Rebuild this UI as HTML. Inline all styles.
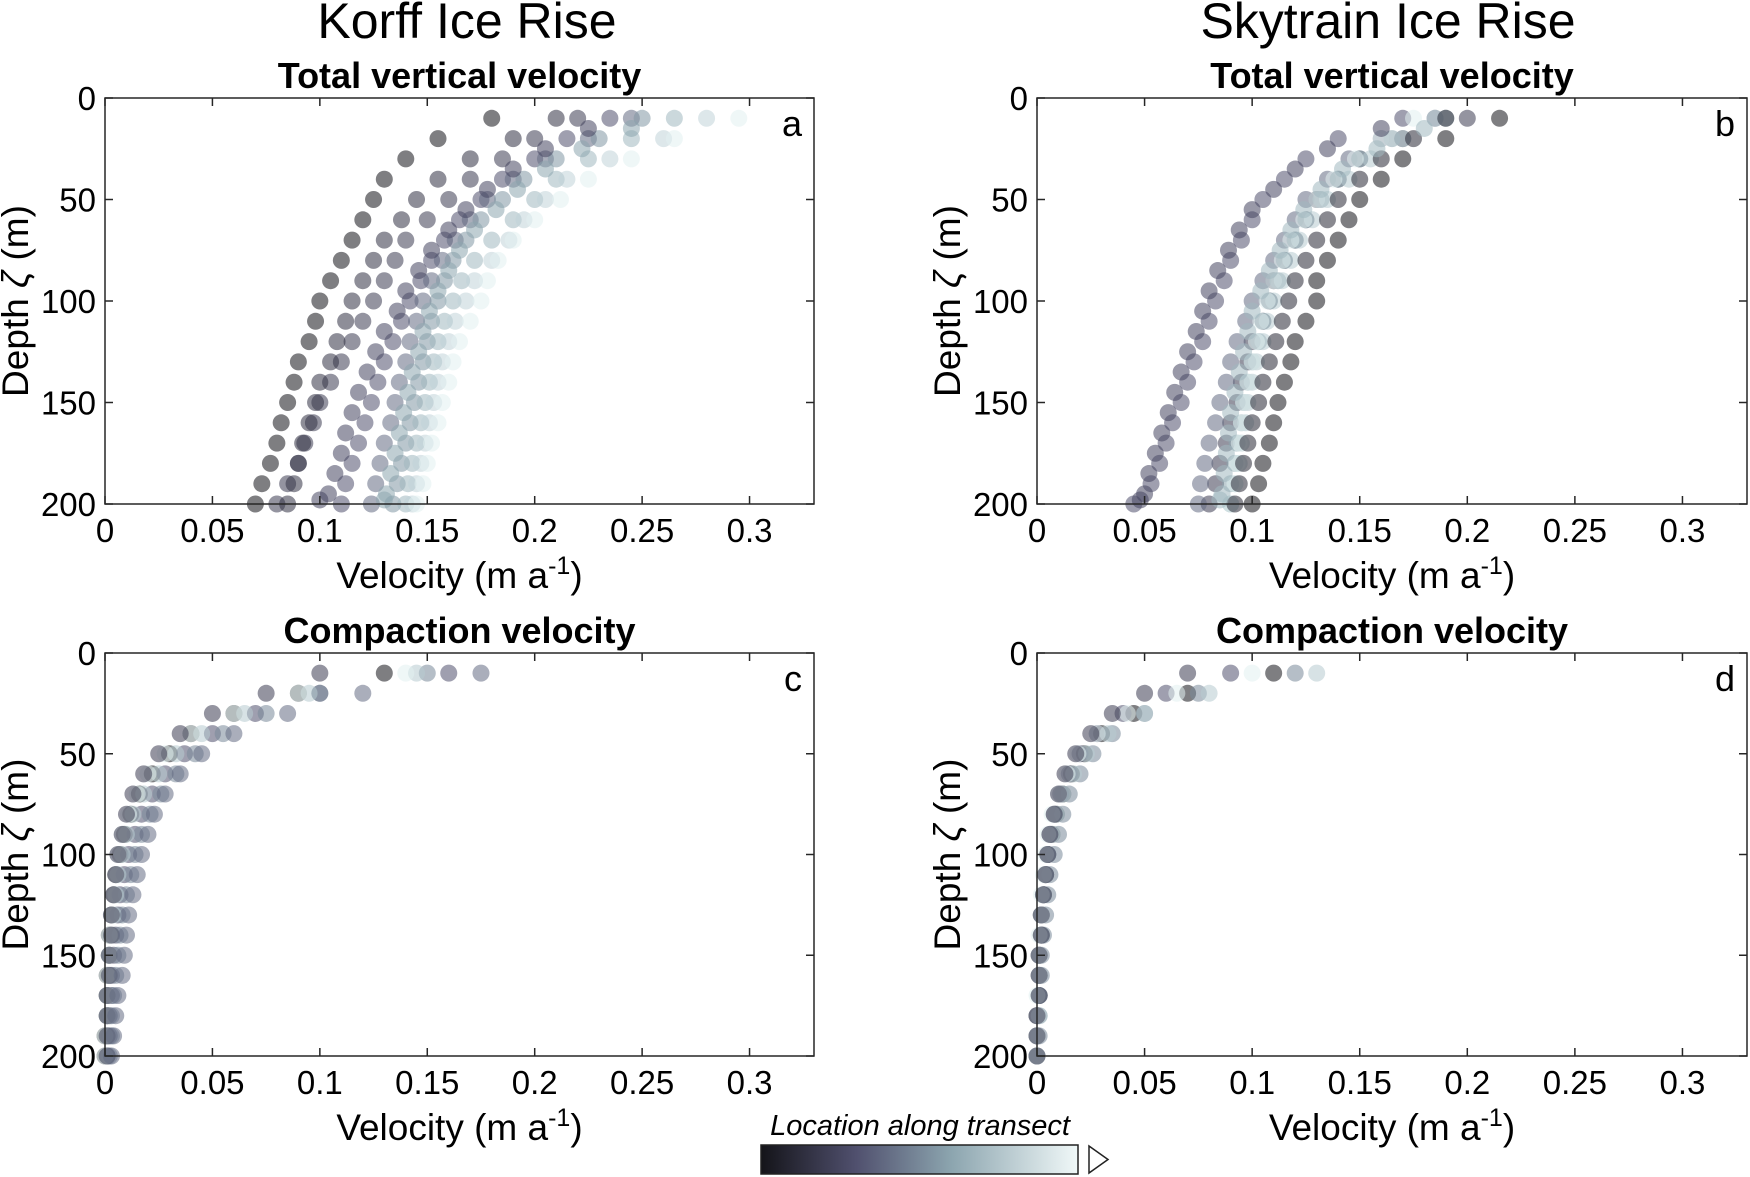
<!DOCTYPE html>
<html><head><meta charset="utf-8"><style>
html,body{margin:0;padding:0;background:#fff;}
svg{display:block;font-family:"Liberation Sans",Arial,sans-serif;}
</style></head><body>
<svg id="fig" width="1750" height="1177" viewBox="0 0 1750 1177">
<defs><linearGradient id="cmap" x1="0" x2="1" y1="0" y2="0">
<stop offset="0" stop-color="#141419"/><stop offset="0.3" stop-color="#50506e"/><stop offset="0.6" stop-color="#8ca5af"/><stop offset="1" stop-color="#f0f8f8"/></linearGradient></defs>
<text x="467" y="38" font-size="50" text-anchor="middle">Korff Ice Rise</text>
<text x="1388" y="38" font-size="50" text-anchor="middle">Skytrain Ice Rise</text>
<g>
<text x="920" y="1135" font-size="29" font-style="italic" text-anchor="middle">Location along transect</text>
<rect x="761" y="1145" width="317" height="29" fill="url(#cmap)" stroke="#222" stroke-width="1.5"/>
<polygon points="1089,1146 1108,1159.5 1089,1173" fill="#fff" stroke="#222" stroke-width="1.5"/>
</g>
</svg>
<script>
const depths=[10,20,30,40,50,60,70,80,90,100,110,120,130,140,150,160,170,180,190,200];
const depthsB=[15,25,35,45,55,65,75,85,95,105,115,125,135,145,155,165,175,185,195,198];
const aColors=[0.0,0.2,0.3,0.4,0.55,0.7,0.85,1.0,0.15,0.25,0.6];
const aDepthSet=[0,0,0,0,0,0,0,0,0,1,1];
const aVals=[
[0.18,0.155,0.14,0.13,0.125,0.12,0.115,0.11,0.105,0.10,0.098,0.095,0.09,0.088,0.085,0.082,0.08,0.077,0.073,0.07],
[0.22,0.20,0.185,0.17,0.16,0.15,0.14,0.135,0.13,0.125,0.12,0.115,0.11,0.105,0.10,0.097,0.093,0.09,0.085,0.08],
[0.235,0.215,0.2,0.185,0.175,0.165,0.158,0.152,0.147,0.142,0.138,0.134,0.13,0.127,0.124,0.121,0.118,0.115,0.112,0.11],
[0.245,0.225,0.205,0.19,0.178,0.17,0.163,0.157,0.152,0.148,0.145,0.142,0.14,0.137,0.135,0.133,0.13,0.128,0.126,0.124],
[0.25,0.23,0.21,0.195,0.185,0.175,0.168,0.162,0.158,0.155,0.152,0.15,0.148,0.146,0.144,0.142,0.14,0.138,0.136,0.134],
[0.265,0.245,0.225,0.21,0.2,0.19,0.18,0.172,0.166,0.162,0.158,0.155,0.153,0.151,0.149,0.147,0.145,0.143,0.141,0.14],
[0.28,0.26,0.235,0.215,0.205,0.195,0.188,0.18,0.172,0.168,0.163,0.16,0.157,0.155,0.153,0.151,0.149,0.147,0.145,0.143],
[0.295,0.265,0.245,0.225,0.212,0.2,0.19,0.183,0.178,0.175,0.17,0.165,0.162,0.16,0.157,0.155,0.152,0.15,0.148,0.145],
[0.21,0.19,0.17,0.155,0.145,0.138,0.13,0.125,0.12,0.115,0.112,0.108,0.105,0.1,0.098,0.095,0.092,0.09,0.088,0.085],
[0.225,0.205,0.19,0.178,0.168,0.16,0.152,0.146,0.14,0.136,0.13,0.126,0.122,0.118,0.115,0.112,0.11,0.107,0.104,0.1],
[0.245,0.222,0.205,0.192,0.182,0.172,0.165,0.16,0.155,0.151,0.148,0.146,0.143,0.141,0.139,0.137,0.135,0.133,0.131,0.13]];
const bColors=[0.0,0.2,0.3,0.4,0.6,0.8,1.0,0.1,0.25,0.7];
const bDepthSet=[0,0,0,0,0,0,0,0,1,1];
const bVals=[
[0.215,0.19,0.17,0.16,0.15,0.145,0.14,0.135,0.13,0.13,0.125,0.12,0.118,0.115,0.112,0.11,0.108,0.105,0.103,0.1],
[0.2,0.17,0.15,0.14,0.13,0.125,0.12,0.115,0.11,0.108,0.105,0.1,0.098,0.095,0.093,0.09,0.088,0.085,0.083,0.08],
[0.17,0.14,0.125,0.115,0.105,0.1,0.095,0.09,0.087,0.083,0.08,0.077,0.073,0.07,0.067,0.063,0.06,0.057,0.053,0.045],
[0.185,0.16,0.145,0.135,0.125,0.12,0.115,0.11,0.105,0.1,0.097,0.093,0.09,0.088,0.085,0.083,0.08,0.078,0.076,0.075],
[0.19,0.165,0.15,0.14,0.132,0.125,0.12,0.115,0.112,0.108,0.105,0.103,0.1,0.098,0.096,0.095,0.093,0.092,0.09,0.09],
[0.185,0.17,0.155,0.145,0.135,0.128,0.122,0.118,0.114,0.11,0.107,0.105,0.102,0.1,0.098,0.097,0.095,0.094,0.092,0.09],
[0.175,0.16,0.148,0.138,0.13,0.124,0.118,0.114,0.11,0.107,0.104,0.102,0.1,0.098,0.096,0.095,0.094,0.093,0.092,0.09],
[0.19,0.175,0.16,0.15,0.14,0.135,0.13,0.125,0.12,0.117,0.114,0.111,0.108,0.105,0.103,0.1,0.098,0.096,0.094,0.092],
[0.16,0.135,0.12,0.11,0.1,0.094,0.089,0.084,0.08,0.077,0.074,0.07,0.067,0.064,0.061,0.058,0.055,0.052,0.05,0.048],
[0.18,0.158,0.142,0.132,0.124,0.118,0.113,0.108,0.104,0.1,0.098,0.096,0.094,0.092,0.09,0.089,0.088,0.087,0.086,0.085]];
const cColors=[0.0,0.3,0.5,0.8,1.0,0.2,0.4];
const cVals=[
[0.13,0.09,0.06,0.04,0.03,0.022,0.016,0.012,0.009,0.007,0.005,0.004,0.003,0.002,0.002,0.001,0.001,0.001,0.0,0.0],
[0.16,0.1,0.07,0.05,0.037,0.028,0.022,0.017,0.014,0.011,0.009,0.007,0.006,0.005,0.004,0.003,0.003,0.002,0.002,0.001],
[0.15,0.1,0.075,0.055,0.042,0.033,0.026,0.021,0.017,0.014,0.012,0.01,0.008,0.007,0.006,0.005,0.004,0.003,0.003,0.002],
[0.145,0.095,0.065,0.045,0.033,0.025,0.018,0.013,0.01,0.008,0.006,0.005,0.004,0.003,0.002,0.002,0.001,0.001,0.001,0.001],
[0.14,0.09,0.06,0.04,0.028,0.02,0.015,0.011,0.008,0.006,0.005,0.004,0.003,0.002,0.002,0.001,0.001,0.001,0.0,0.0],
[0.1,0.075,0.05,0.035,0.025,0.018,0.013,0.01,0.008,0.006,0.005,0.004,0.003,0.003,0.002,0.002,0.001,0.001,0.001,0.001],
[0.175,0.12,0.085,0.06,0.045,0.035,0.028,0.023,0.02,0.017,0.015,0.013,0.011,0.01,0.009,0.008,0.006,0.005,0.004,0.003]];
const dColors=[0.0,0.3,0.5,0.8,1.0,0.2];
const dVals=[
[0.11,0.07,0.045,0.03,0.022,0.016,0.012,0.009,0.007,0.005,0.004,0.003,0.002,0.002,0.001,0.001,0.001,0.0,0.0,0.0],
[0.09,0.06,0.04,0.028,0.02,0.015,0.011,0.008,0.006,0.005,0.004,0.003,0.002,0.002,0.001,0.001,0.001,0.0,0.0,0.0],
[0.12,0.075,0.05,0.035,0.026,0.02,0.015,0.012,0.01,0.008,0.006,0.005,0.004,0.003,0.002,0.002,0.001,0.001,0.001,0.0],
[0.13,0.08,0.05,0.033,0.023,0.017,0.012,0.009,0.007,0.005,0.004,0.003,0.002,0.002,0.001,0.001,0.001,0.001,0.0,0.0],
[0.1,0.065,0.042,0.028,0.019,0.014,0.01,0.007,0.005,0.004,0.003,0.002,0.002,0.001,0.001,0.001,0.0,0.0,0.0,0.0],
[0.07,0.05,0.035,0.025,0.018,0.013,0.01,0.008,0.006,0.005,0.004,0.003,0.002,0.002,0.001,0.001,0.001,0.0,0.0,0.0]];
const xTicks=[0,0.05,0.1,0.15,0.2,0.25,0.3];
const xTickLabels=["0","0.05","0.1","0.15","0.2","0.25","0.3"];
const yTicks=[0,50,100,150,200];

const NS="http://www.w3.org/2000/svg";
const svg=document.getElementById('fig');
function mk(tag,attrs,parent){const e=document.createElementNS(NS,tag);for(const k in attrs)e.setAttribute(k,attrs[k]);(parent||svg).appendChild(e);return e;}
function cmap(t){const st=[[0,[20,20,25]],[0.3,[80,80,110]],[0.6,[140,165,175]],[1,[225,240,240]]];
 for(let i=0;i<st.length-1;i++){if(t<=st[i+1][0]){const f=(t-st[i][0])/(st[i+1][0]-st[i][0]);return 'rgb('+st[i][1].map((v,j)=>Math.round(v+(st[i+1][1][j]-v)*f)).join(',')+')';}}return 'rgb(225,240,240)';}
function panel(id,L,T,W,H,title,letter,colors,vals,dset){
 const g=mk('g',{});
 
 
 const xs=v=>L+v/0.33*W, ys=d=>T+d/200*H;
 const tt=mk('text',{x:L+W/2,y:T-10,'font-size':36,'font-weight':'bold','text-anchor':'middle'},g);tt.textContent=title;
 
 
 const pts=mk('g',{},g);
 
 
 colors.forEach((c,pi)=>{const dd=(dset&&dset[pi])?depthsB:depths;vals[pi].forEach((v,di)=>{
  const cc=mk('circle',{cx:xs(v),cy:ys(dd[di]),r:8.5,fill:cmap(c),'fill-opacity':0.55},pts);
  
  
 });});
 const ax=mk('rect',{x:L,y:T,width:W,height:H,fill:'none',stroke:'#262626','stroke-width':1.5},g);
 
 
 xTicks.forEach((v,i)=>{const x=xs(v);
  mk('line',{x1:x,x2:x,y1:T+H,y2:T+H-8,stroke:'#262626','stroke-width':1.5},g);
  mk('line',{x1:x,x2:x,y1:T,y2:T+8,stroke:'#262626','stroke-width':1.5},g);
  const t=mk('text',{x:x,y:T+H+38,'font-size':33,'text-anchor':'middle'},g);t.textContent=xTickLabels[i];
  
  });
 yTicks.forEach(d=>{const y=ys(d);
  mk('line',{x1:L,x2:L+8,y1:y,y2:y,stroke:'#262626','stroke-width':1.5},g);
  mk('line',{x1:L+W,x2:L+W-8,y1:y,y2:y,stroke:'#262626','stroke-width':1.5},g);
  const t=mk('text',{x:L-9,y:y+12,'font-size':33,'text-anchor':'end'},g);t.textContent=d;
  
  });
 const xl=mk('text',{x:L+W/2,y:T+H+84,'font-size':37,'text-anchor':'middle'},g);
 xl.innerHTML='Velocity (m a<tspan dy="-14" font-size="25">-1</tspan><tspan dy="14">)</tspan>';
 
 
 const yl=mk('text',{x:0,y:0,'font-size':37,'text-anchor':'middle',transform:`translate(${L-77},${T+H/2}) rotate(-90)`},g);
 yl.innerHTML='Depth <tspan font-style="italic">ζ</tspan> (m)';
 
 
 const lt=mk('text',{x:L+W-12,y:T+38,'font-size':36,'text-anchor':'end'},g);lt.textContent=letter;
 
 
}
panel('a',105,98,709,406,'Total vertical velocity','a',aColors,aVals,aDepthSet);
panel('b',1037,98,710,406,'Total vertical velocity','b',bColors,bVals,bDepthSet);
panel('c',105,653,709,403,'Compaction velocity','c',cColors,cVals,null);
panel('d',1037,653,710,403,'Compaction velocity','d',dColors,dVals,null);
</script>
</body></html>
